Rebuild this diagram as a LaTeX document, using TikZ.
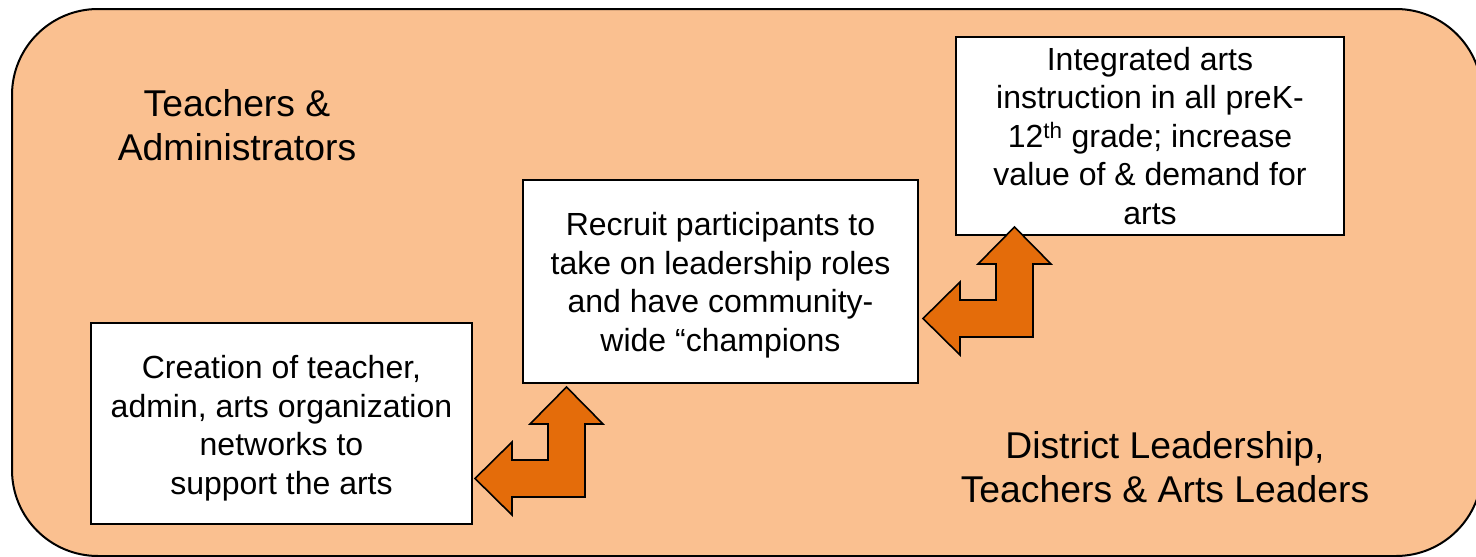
\documentclass[tikz,border=0pt]{standalone}
\usepackage{fontspec}
\setmainfont{Liberation Sans}
\definecolor{peach}{HTML}{FAC090}
\definecolor{darkorange}{HTML}{E46C0A}
\tikzset{
  panel/.style={draw=black, line width=2pt, fill=peach, rounded corners=86pt},
  stepbox/.style={draw=black, line width=1.6pt, fill=white, align=center, inner sep=0pt,
    font=\fontsize{32}{38.5}\selectfont},
  biglabel/.style={align=center, inner sep=0pt, font=\fontsize{37.3}{44}\selectfont},
  bentarrow/.pic={
    \draw[fill=darkorange, line width=1.6pt, line join=miter]
      (-110,-18.5) -- (-73,-55) -- (-73,-37) -- (-37,-37) -- (-37,-73) -- (-55,-73)
      -- (-18.5,-110) -- (18,-73) -- (0,-73) -- (0,0) -- (-73,0) -- (-73,18) -- cycle;
  }
}
\begin{document}
\begin{tikzpicture}[x=1pt, y=-1pt]
\useasboundingbox (0,0) rectangle (1476,557);
\begin{scope}
\clip (0,0) rectangle (1476,557);
\draw[panel] (12,9) rectangle (1482,556);
\end{scope}

\node[biglabel] (lblA) at (237,125) {Teachers \&\\Administrators};
\node[biglabel] (lblB) at (1165,467) {District Leadership,\\Teachers \& Arts Leaders};

\node[stepbox, minimum width=381pt, minimum height=201pt] (b1) at (281.5,423.5)
  {\rule{0pt}{33pt}Creation of teacher,\\admin, arts organization\\networks to\\support the arts};
\node[stepbox, minimum width=395pt, minimum height=203pt] (b2) at (720.5,281.5)
  {\rule{0pt}{31pt}Recruit participants to\\take on leadership roles\\and have community-\\wide “champions};
\node[stepbox, minimum width=388pt, minimum height=198pt] (b3) at (1150,136)
  {Integrated arts\\instruction in all preK-\\12\textsuperscript{th} grade; increase\\value of \& demand for\\arts};

\pic at (585,497) {bentarrow};
\pic at (1033,337) {bentarrow};
\end{tikzpicture}
\end{document}
